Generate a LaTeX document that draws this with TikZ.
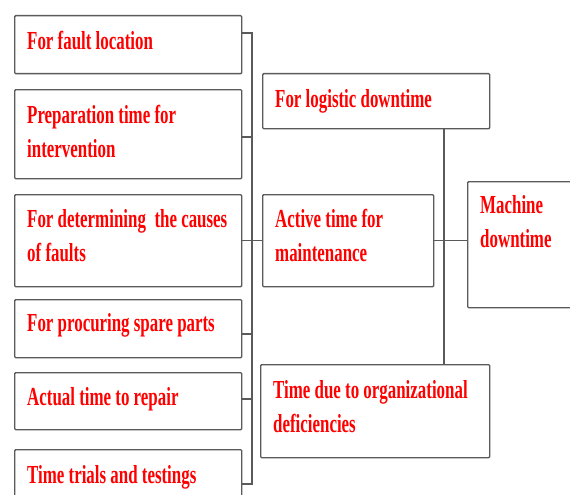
\documentclass[tikz,border=0pt]{standalone}
\usepackage{fontspec}
\newfontfamily\lblfont{Liberation Serif}[FakeStretch=0.65]
\usetikzlibrary{calc}
\definecolor{boxgray}{HTML}{5A5A5A}
\definecolor{textred}{HTML}{FF0000}
\begin{document}
\begin{tikzpicture}[x=1pt,y=-1pt,
  box/.style={draw=boxgray, line width=1.4pt, rounded corners=1pt, fill=white,
    inner sep=0pt, anchor=north west},
  lbl/.style={text=textred, font=\lblfont\bfseries\fontsize{26}{33.5}\selectfont,
    anchor=base west, inner sep=0pt, align=left},
  link/.style={draw=boxgray, line width=1.4pt}]
\clip (0,0) rectangle (570,495);
\fill[white] (0,0) rectangle (570,495);

% left column: the individual time components
\node[box, minimum width=227pt, minimum height=58pt] (b1) at (14,15) {};
\node[box, minimum width=227pt, minimum height=89pt] (b2) at (14,89) {};
\node[box, minimum width=227pt, minimum height=92pt] (b3) at (14,194) {};
\node[box, minimum width=227pt, minimum height=58pt] (b4) at (14,299) {};
\node[box, minimum width=227pt, minimum height=57pt] (b5) at (14,372) {};
\node[box, minimum width=227pt, minimum height=70pt] (b6) at (14,449) {};

% middle column
\node[box, minimum width=227pt, minimum height=55pt] (log) at (262,73) {};
\node[box, minimum width=171pt, minimum height=92pt] (act) at (262,194) {};
\node[box, minimum width=229pt, minimum height=93pt] (org) at (260,364) {};

% right: the total
\node[box, minimum width=120pt, minimum height=126pt] (mach) at (467,181) {};

% labels (multi-line labels are placed by the baseline of their last line)
\node[lbl] (t1) at (27,49) {For fault location};
\node[lbl] (t2) at (27,157) {Preparation time for\\intervention};
\node[lbl] (t3) at (27,261) {For determining\, the causes\\of faults};
\node[lbl] (t4) at (27,331) {For procuring spare parts};
\node[lbl] (t5) at (27,405) {Actual time to repair};
\node[lbl] (t6) at (27,483) {Time trials and testings};
\node[lbl] (t7) at (275,107) {For logistic downtime};
\node[lbl] (t8) at (275,261) {Active time for\\maintenance};
\node[lbl] (t9) at (273,432) {Time due to organizational\\deficiencies};
\node[lbl] (t10) at (480,247) {Machine\\downtime};

% bus joining the left column
\coordinate (busT) at (252,33);
\coordinate (busB) at (252,484);
\coordinate (j2) at (252,137);
\coordinate (j4) at (252,334);
\coordinate (j5) at (252,399);
\draw[link] (b1.east |- busT) -- (busT) -- (busB) -- (b6.east |- busB);
\draw[link] (b2.east |- j2) -- (j2);
\draw[link] (b4.east |- j4) -- (j4);
\draw[link] (b5.east |- j5) -- (j5);
\draw[link] (b3.east) -- (act.west);

% spine joining the middle column to the total
\coordinate (sp) at (444,0);
\draw[link] (log.south -| sp) -- (org.north -| sp);
\draw[link] (act.east) -- (mach.west |- act.east);
\end{tikzpicture}
\end{document}
